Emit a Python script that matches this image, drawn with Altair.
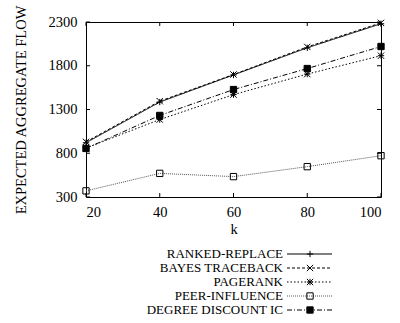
import altair as alt
import pandas as pd

k_values = [20, 40, 60, 80, 100]
series_names = ["RANKED-REPLACE", "BAYES TRACEBACK", "PAGERANK", "PEER-INFLUENCE", "DEGREE DISCOUNT IC"]
ranked_replace = [920, 1385, 1695, 2005, 2280]
bayes_traceback = [930, 1395, 1700, 2015, 2290]
pagerank = [860, 1185, 1470, 1705, 1915]
peer_influence = [370, 570, 533, 647, 772]
degree_discount = [855, 1232, 1528, 1768, 2020]
x_ticks = [20, 40, 60, 80, 100]
y_ticks = [300, 800, 1300, 1800, 2300]

all_series = [ranked_replace, bayes_traceback, pagerank, peer_influence, degree_discount]
rows = []
for name, vals in zip(series_names, all_series):
    for k, v in zip(k_values, vals):
        rows.append({"k": k, "value": v, "series": name})
df = pd.DataFrame(rows)

FONT = "Liberation Serif"
W, H = 295, 175
AX_FS = 14.5

dash_scale = alt.Scale(domain=series_names, range=[[1, 0], [3, 2], [1.5, 2], [1, 1], [5, 2, 1, 2]])
color_scale = alt.Scale(domain=series_names, range=["black", "black", "black", "#555555", "black"])
shape_scale = alt.Scale(domain=series_names, range=[
    "M-1,0L1,0M0,-1L0,1",
    "M-1,-1L1,1M-1,1L1,-1",
    "M-1,-1L1,1M-1,1L1,-1M-1,0L1,0M0,-1L0,1",
    "square",
    "square",
])
fill_scale = alt.Scale(domain=series_names, range=["transparent", "transparent", "transparent", "transparent", "black"])
size_scale = alt.Scale(domain=series_names, range=[40, 40, 40, 30, 45])

xs = alt.Scale(domain=[20, 100], nice=False)
ys = alt.Scale(domain=[300, 2300], nice=False)

base = alt.Chart(df)
lines = base.mark_line(strokeWidth=1).encode(
    x=alt.X("k:Q", scale=xs, axis=alt.Axis(values=x_ticks, format="d", ticks=False, domain=False, grid=False,
                                           labelFont=FONT, labelFontSize=AX_FS, labelColor="black",
                                           labelPadding=8, title="k", titleFont=FONT, titleFontSize=AX_FS,
                                           titleFontWeight="normal", titleColor="black", titlePadding=4)),
    y=alt.Y("value:Q", scale=ys, axis=alt.Axis(values=y_ticks, format="d", ticks=False, domain=False, grid=False,
                                               labelFont=FONT, labelFontSize=AX_FS, labelColor="black",
                                               labelPadding=9, title="EXPECTED AGGREGATE FLOW",
                                               titleFont=FONT, titleFontSize=AX_FS, titleFontWeight="normal",
                                               titleColor="black", titlePadding=20)),
    detail="series:N",
    strokeDash=alt.StrokeDash("series:N", scale=dash_scale, legend=None),
    color=alt.Color("series:N", scale=color_scale, legend=None),
)
points = base.mark_point(strokeWidth=1, opacity=1).encode(
    x=alt.X("k:Q", scale=xs),
    y=alt.Y("value:Q", scale=ys),
    shape=alt.Shape("series:N", scale=shape_scale, legend=None),
    fill=alt.Fill("series:N", scale=fill_scale, legend=None),
    size=alt.Size("series:N", scale=size_scale, legend=None),
    stroke=alt.value("black"),
)

xt = alt.Chart(pd.DataFrame({"t": x_ticks}))
yt = alt.Chart(pd.DataFrame({"t": y_ticks}))
tick_style = dict(color="black", strokeWidth=1)
xb = xt.mark_rule(**tick_style).encode(x=alt.X("t:Q", scale=xs), y=alt.value(H), y2=alt.value(H - 4))
xtop = xt.mark_rule(**tick_style).encode(x=alt.X("t:Q", scale=xs), y=alt.value(0), y2=alt.value(4))
yl = yt.mark_rule(**tick_style).encode(y=alt.Y("t:Q", scale=ys), x=alt.value(0), x2=alt.value(4))
yr = yt.mark_rule(**tick_style).encode(y=alt.Y("t:Q", scale=ys), x=alt.value(W), x2=alt.value(W - 4))

main = alt.layer(lines, points, xb, xtop, yl, yr).properties(
    width=W, height=H, view=alt.ViewBackground(stroke="black", strokeWidth=1)
)

leg = alt.Chart(pd.DataFrame({"series": series_names}))
ly = alt.Y("series:N", scale=alt.Scale(type="point", domain=series_names, padding=0.5), axis=None)
leg_text = leg.mark_text(align="right", baseline="middle", font=FONT, fontSize=13, color="black").encode(
    x=alt.value(197), y=ly, text="series:N")
leg_line = leg.mark_rule(strokeWidth=1).encode(
    x=alt.value(201), x2=alt.value(246), y=ly,
    strokeDash=alt.StrokeDash("series:N", scale=dash_scale, legend=None),
    color=alt.Color("series:N", scale=color_scale, legend=None))
leg_pt = leg.mark_point(strokeWidth=1, opacity=1).encode(
    x=alt.value(224), y=ly,
    shape=alt.Shape("series:N", scale=shape_scale, legend=None),
    fill=alt.Fill("series:N", scale=fill_scale, legend=None),
    size=alt.Size("series:N", scale=size_scale, legend=None),
    stroke=alt.value("black"))
legend = alt.layer(leg_line, leg_pt, leg_text).properties(width=W, height=70)

chart = alt.vconcat(main, legend, spacing=10).resolve_scale(
    strokeDash="shared", color="shared", shape="shared", fill="shared", size="shared"
).properties(padding={"left": 12, "top": 4, "right": 5, "bottom": 0}).configure_view(stroke=None)

chart.save("out.html", embed_options={"renderer": "svg", "actions": False})
